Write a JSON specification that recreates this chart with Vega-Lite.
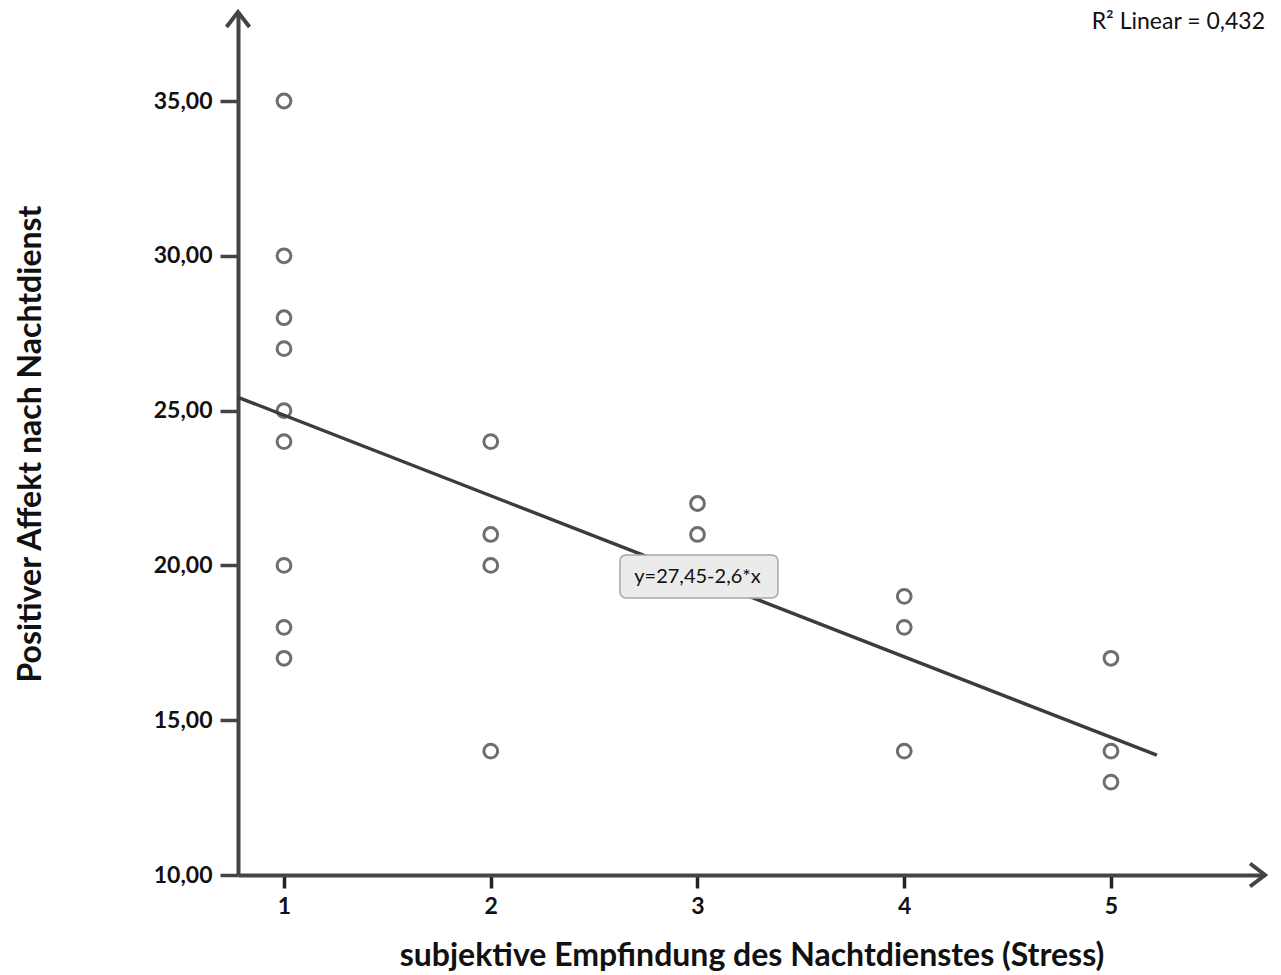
{
  "$schema": "https://vega.github.io/schema/vega-lite/v6.json",
  "width": 1027,
  "height": 863,
  "autosize": {"type": "none"},
  "padding": {"left": 238, "top": 12, "right": 16, "bottom": 100},
  "background": "white",
  "config": {"view": {"stroke": null}, "font": "Lato"},
  "datasets": {
    "points": [
      {"stress": 1, "affekt": 35}, {"stress": 1, "affekt": 30}, {"stress": 1, "affekt": 28},
      {"stress": 1, "affekt": 27}, {"stress": 1, "affekt": 25}, {"stress": 1, "affekt": 24},
      {"stress": 1, "affekt": 20}, {"stress": 1, "affekt": 18}, {"stress": 1, "affekt": 17},
      {"stress": 2, "affekt": 24}, {"stress": 2, "affekt": 21}, {"stress": 2, "affekt": 20},
      {"stress": 2, "affekt": 14},
      {"stress": 3, "affekt": 22}, {"stress": 3, "affekt": 21},
      {"stress": 4, "affekt": 19}, {"stress": 4, "affekt": 18}, {"stress": 4, "affekt": 14},
      {"stress": 5, "affekt": 17}, {"stress": 5, "affekt": 14}, {"stress": 5, "affekt": 13}
    ],
    "fit": [
      {"stress": 0.7775, "affekt": 25.43},
      {"stress": 5.222, "affekt": 13.87}
    ]
  },
  "layer": [
    {
      "data": {"name": "points"},
      "mark": {"type": "point", "shape": "circle", "filled": false, "size": 190, "strokeWidth": 3, "color": "#6e6e6e", "opacity": 1},
      "encoding": {
        "x": {
          "field": "stress", "type": "quantitative",
          "scale": {"domain": [0.7775, 5.745], "nice": false, "zero": false},
          "axis": {
            "title": "subjektive Empfindung des Nachtdienstes (Stress)",
            "values": [1, 2, 3, 4, 5],
            "format": "d",
            "grid": false,
            "domainColor": "#444444", "domainWidth": 4,
            "tickColor": "#222222", "tickWidth": 3.5, "tickSize": 13,
            "labelFont": "Lato", "labelFontSize": 23, "labelFontWeight": "bold", "labelColor": "#111111", "labelPadding": 7,
            "titleFont": "Lato", "titleFontSize": 32, "titleFontWeight": "bold", "titleColor": "#111111", "titlePadding": 22
          }
        },
        "y": {
          "field": "affekt", "type": "quantitative",
          "scale": {"domain": [10, 37.875], "nice": false, "zero": false},
          "axis": {
            "title": "Positiver Affekt nach Nachtdienst",
            "values": [10, 15, 20, 25, 30, 35],
            "labelExpr": "replace(format(datum.value, '.2f'), '.', ',')",
            "grid": false,
            "domainColor": "#444444", "domainWidth": 4,
            "tickColor": "#444444", "tickWidth": 3.5, "tickSize": 18,
            "labelFont": "Lato", "labelFontSize": 23, "labelFontWeight": "bold", "labelColor": "#111111", "labelPadding": 8,
            "titleFont": "Lato", "titleFontSize": 32, "titleFontWeight": "bold", "titleColor": "#111111", "titlePadding": 106
          }
        }
      }
    },
    {
      "data": {"name": "fit"},
      "mark": {"type": "line", "color": "#3c3c3c", "strokeWidth": 3.4},
      "encoding": {
        "x": {"field": "stress", "type": "quantitative"},
        "y": {"field": "affekt", "type": "quantitative"}
      }
    },
    {
      "data": {"values": [{}]},
      "mark": {"type": "rect", "fill": "#ebebeb", "stroke": "#a8a8a8", "strokeWidth": 1.5, "cornerRadius": 6},
      "encoding": {
        "x": {"datum": 2.625, "type": "quantitative"},
        "x2": {"datum": 3.389},
        "y": {"datum": 20.34, "type": "quantitative"},
        "y2": {"datum": 18.95}
      }
    },
    {
      "data": {"values": [{}]},
      "mark": {"type": "text", "text": "y=27,45-2,6*x", "font": "Lato", "fontSize": 20, "color": "#111111", "align": "center", "baseline": "middle"},
      "encoding": {
        "x": {"datum": 3.0, "type": "quantitative"},
        "y": {"datum": 19.63, "type": "quantitative"}
      }
    },
    {
      "data": {"values": [{}]},
      "mark": {"type": "text", "text": "R² Linear = 0,432", "font": "Lato", "fontSize": 23, "color": "#111111", "align": "right", "baseline": "middle"},
      "encoding": {
        "x": {"datum": 5.745, "type": "quantitative"},
        "y": {"datum": 37.55, "type": "quantitative"}
      }
    },
    {
      "data": {"values": [{}]},
      "mark": {"type": "point", "shape": "M-1,1.3L0,0L1,1.3", "filled": false, "size": 529, "stroke": "#444444", "strokeWidth": 4, "opacity": 1},
      "encoding": {
        "x": {"datum": 0.7775, "type": "quantitative"},
        "y": {"datum": 37.875, "type": "quantitative"}
      }
    },
    {
      "data": {"values": [{}]},
      "mark": {"type": "point", "shape": "M-1.3,-1L0,0L-1.3,1", "filled": false, "size": 529, "stroke": "#444444", "strokeWidth": 4, "opacity": 1},
      "encoding": {
        "x": {"datum": 5.745, "type": "quantitative"},
        "y": {"datum": 10, "type": "quantitative"}
      }
    }
  ]
}
